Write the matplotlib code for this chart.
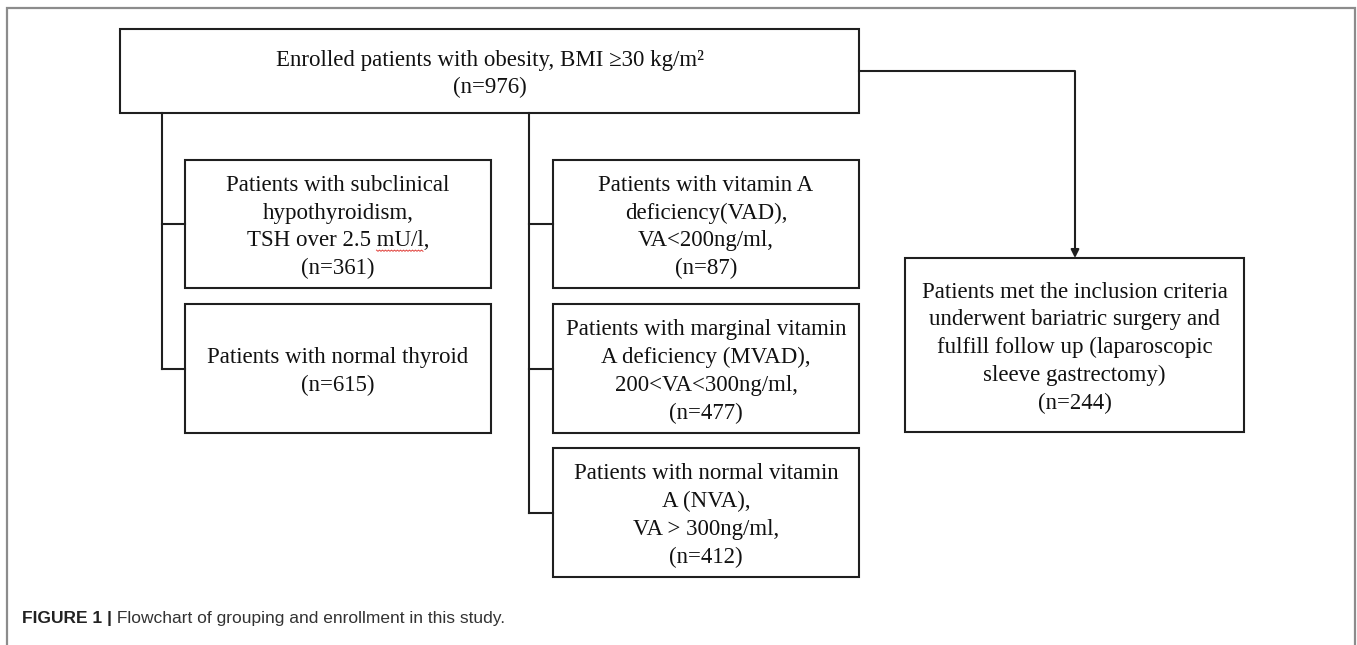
import numpy as np
import matplotlib.pyplot as plt
from matplotlib.patches import Rectangle

# text of each box and the counts
top_text = 'Enrolled patients with obesity, BMI \u226530 kg/m\u00b2'
top_n = 976
thyroid_text = ['Patients with subclinical\nhypothyroidism,\nTSH over 2.5 mU/l,',
                'Patients with normal thyroid']
thyroid_n = [361, 615]
va_text = ['Patients with vitamin A\ndeficiency(VAD),\nVA<200ng/ml,',
           'Patients with marginal vitamin\nA deficiency (MVAD),\n200<VA<300ng/ml,',
           'Patients with normal vitamin\nA (NVA),\nVA > 300ng/ml,']
va_n = [87, 477, 412]
surgery_text = ('Patients met the inclusion criteria\nunderwent bariatric surgery and\n'
                'fulfill follow up (laparoscopic\nsleeve gastrectomy)')
surgery_n = 244
caption_bold = 'FIGURE 1 |'
caption_rest = ' Flowchart of grouping and enrollment in this study.'

# layout in pixels (x0, x1, y0, y1)
W, H = 1357, 645
top_box = (120, 859, 29, 113)
thyroid_boxes = [(185, 491, 160, 288), (185, 491, 304, 433)]
va_boxes = [(553, 859, 160, 288), (553, 859, 304, 433), (553, 859, 448, 577)]
surgery_box = (905, 1244, 258, 432)
left_trunk = 162
mid_trunk = 529
arrow_y = 71
arrow_x = 1075

ink = '#1f1f1f'
lw = 1.5
serif = 'Liberation Serif'
fs = 16.5
ls = 1.42
text_dy = 3

fig = plt.figure(figsize=(W / 100, H / 100), dpi=100)
ax = fig.add_axes([0, 0, 1, 1])
ax.set_xlim(0, W)
ax.set_ylim(H, 0)
ax.axis('off')

# outer frame (open at the bottom)
ax.plot([7, 7, 1355, 1355], [H + 5, 8, 8, H + 5], color='#8c8c8c', lw=1.6,
        solid_joinstyle='miter')


def box(b, text):
    x0, x1, y0, y1 = b
    ax.add_patch(Rectangle((x0, y0), x1 - x0, y1 - y0, fill=False,
                           edgecolor=ink, lw=lw, joinstyle='miter'))
    return ax.text((x0 + x1) / 2, (y0 + y1) / 2 + text_dy, text, ha='center',
                   va='center', multialignment='center', family=serif,
                   fontsize=fs, linespacing=ls, color='#111111')


box(top_box, top_text + '\n(n=%d)' % top_n)
tsh = None
for b, t, n in zip(thyroid_boxes, thyroid_text, thyroid_n):
    tx = box(b, t + '\n(n=%d)' % n)
    if tsh is None:
        tsh = tx
for b, t, n in zip(va_boxes, va_text, va_n):
    box(b, t + '\n(n=%d)' % n)
box(surgery_box, surgery_text + '\n(n=%d)' % surgery_n)

# branch lines
for trunk, boxes in [(left_trunk, thyroid_boxes), (mid_trunk, va_boxes)]:
    mids = [(b[2] + b[3]) / 2 for b in boxes]
    ax.plot([trunk, trunk], [top_box[3], mids[-1]], color=ink, lw=lw)
    for b, m in zip(boxes, mids):
        ax.plot([trunk, b[0]], [m, m], color=ink, lw=lw)

# arrow to surgery box
ax.plot([top_box[1], arrow_x, arrow_x], [arrow_y, arrow_y, surgery_box[2] - 6],
        color=ink, lw=lw)
ax.annotate('', xy=(arrow_x, surgery_box[2]), xytext=(arrow_x, surgery_box[2] - 8),
            arrowprops=dict(arrowstyle='-|>', color=ink, lw=lw,
                            mutation_scale=12, shrinkA=0, shrinkB=0))

fig.canvas.draw()
inv = ax.transData.inverted()


def width_of(s):
    t = ax.text(0, 0, s, family=serif, fontsize=fs)
    bb = t.get_window_extent()
    t.remove()
    return bb.width


# red spell-check squiggle under "mU/l"
line3 = 'TSH over 2.5 mU/l,'
cx = (thyroid_boxes[0][0] + thyroid_boxes[0][1]) / 2
full = width_of(line3)
pre = width_of('TSH over 2.5 ')
word = width_of('mU/l')
bb = tsh.get_window_extent().transformed(inv)
ytop, ybot = min(bb.y0, bb.y1), max(bb.y0, bb.y1)
uy = ytop + 0.75 * (ybot - ytop) - 3
ux0 = cx - full / 2 + pre
xs = np.arange(ux0, ux0 + word, 1.5)
ys = uy + np.where(np.arange(len(xs)) % 2 == 0, 0, 1.2)
ax.plot(xs, ys, color='#e0403a', lw=0.7)

# caption
t1 = ax.text(22, 619, caption_bold, ha='left', va='center', family='Liberation Sans',
             fontweight='bold', fontsize=12.5, color='#222222')
fig.canvas.draw()
bb = t1.get_window_extent().transformed(inv)
ax.text(bb.x1, 619, caption_rest, ha='left', va='center', family='Liberation Sans',
        fontsize=12.5, color='#333333')

fig.savefig('out.png', dpi=100)
